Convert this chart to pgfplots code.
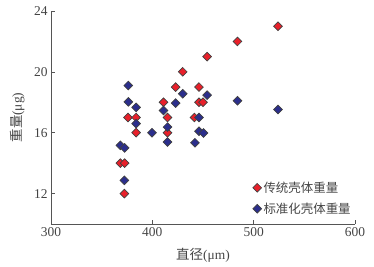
\documentclass[border=0pt]{standalone}
\usepackage{pgfplots}
\pgfplotsset{compat=1.18}
\usepackage{fontspec}
\setmainfont{Liberation Serif}
\newfontfamily\cjk{Noto Sans CJK SC}
\definecolor{redm}{HTML}{E8202A}
\definecolor{bluem}{HTML}{2B2E8C}
\definecolor{axg}{HTML}{555555}
\definecolor{txg}{HTML}{444444}
\begin{document}
\begin{tikzpicture}
\begin{axis}[
  scale only axis,
  width=304bp, height=213bp,
  xmin=300, xmax=600, ymin=10, ymax=24,
  axis lines=left,
  axis line style={draw=axg, line width=0.8pt, -},
  xtick={300,400,500,600}, ytick={12,16,20,24},
  tick style={draw=axg, line width=0.6pt},
  tick align=inside,
  major tick length=4bp,
  minor tick num=0,
  /pgf/number format/assume math mode=true,
  ticklabel style={font=\fontsize{13.5}{14}\selectfont, text=txg},
  xlabel={{\cjk 直径}(μm)},
  ylabel={{\cjk 重量}(μg)},
  xlabel style={at={(axis description cs:0.5,0)}, anchor=north, yshift=-21bp,
    font=\fontsize{13.5}{14}\selectfont, text=txg},
  ylabel style={at={(axis description cs:0,0.5)}, anchor=south, yshift=23bp,
    font=\fontsize{13.5}{14}\selectfont, text=txg},
  clip=false,
  legend style={at={(axis cs:496,13.05)}, anchor=north west, draw=none, fill=none,
    font=\fontsize{12.5}{14}\selectfont\cjk, text=txg, row sep=5bp,
    legend cell align=left},
]
\addplot[only marks, mark=square*, mark size=3.1pt,
  mark options={rotate=45, fill=redm, draw=black!75, line width=0.7pt}]
coordinates {
(524,23) (484,22) (454,21) (430,20) (423,19) (446,19)
(411,18) (446,18) (450,18)
(376,17) (384,17) (415,17) (441.5,17)
(384,16) (415,16)
(368.5,14) (372.7,14)
(372.4,12)
};
\addlegendentry{传统壳体重量}
\addplot[only marks, mark=square*, mark size=3.1pt,
  mark options={rotate=45, fill=bluem, draw=black!75, line width=0.7pt}]
coordinates {
(524,17.53) (484,18.1) (454,18.47) (430,18.56) (423,17.95) (411,17.46)
(446,17.0) (446,16.1) (450.5,15.98) (442,15.34)
(415,16.37) (415,15.39) (399.6,16.0)
(384,16.6) (384,17.66) (376.3,18.03) (376.3,19.1)
(368.5,15.17) (372.7,15.0) (372.4,12.87)
};
\addlegendentry{标准化壳体重量}
\end{axis}
\pgfresetboundingbox
\path ([xshift=-51bp,yshift=-43bp]current axis.south west) rectangle ([xshift=19bp,yshift=11bp]current axis.north east);
\end{tikzpicture}
\end{document}
